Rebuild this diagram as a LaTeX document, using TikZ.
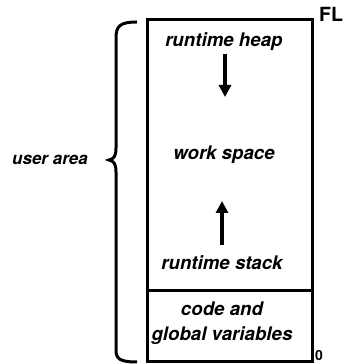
\documentclass[tikz,border=0pt]{standalone}
\usepackage{fontspec}
\setmainfont{TeX Gyre Heros}
\usetikzlibrary{arrows.meta,positioning}

\begin{document}
\begin{tikzpicture}[x=1pt,y=1pt,line width=3pt,
    every node/.style={font=\fontsize{18.7}{25}\selectfont\bfseries\itshape},
    growarrow/.style={line width=3.2pt,-{Triangle[length=12pt,width=12pt]}}]
  \useasboundingbox (0,0) rectangle (343,364);
  % memory block
  \draw (147,2) rectangle (312,344);
  \draw (147,73) -- (312,73);
  \node (heap) at (224,322) {runtime heap};
  \node (work) at (224,209) {work space};
  \node (stack) at (222,101) {runtime stack};
  \node[align=center] (code) at (222,41) {code and\\global variables};
  \coordinate (heaptop) at (225,310);
  \coordinate (heapend) at (225,267);
  \coordinate (stackbot) at (222,119);
  \coordinate (stackend) at (222,163);
  \draw[growarrow] (heaptop) -- (heapend);
  \draw[growarrow] (stackbot) -- (stackend);
  % brace and labels
  \draw (137,342) .. controls (120,342) and (116,338) .. (116,326) -- (116,216)
    .. controls (116,208) and (114,205) .. (109,204)
    .. controls (114,203) and (116,200) .. (116,192) -- (116,14)
    .. controls (116,5) and (120,2) .. (137,2);
  \node[font=\fontsize{17}{20}\selectfont\bfseries\itshape] (user) at (50,204) {user area};
  \node[font=\fontsize{19.5}{21}\selectfont\bfseries] (fl) at (331,350) {FL};
  \node[font=\fontsize{14}{16}\selectfont\bfseries,inner sep=1pt] (zero) at (319,9) {0};
\end{tikzpicture}
\end{document}
